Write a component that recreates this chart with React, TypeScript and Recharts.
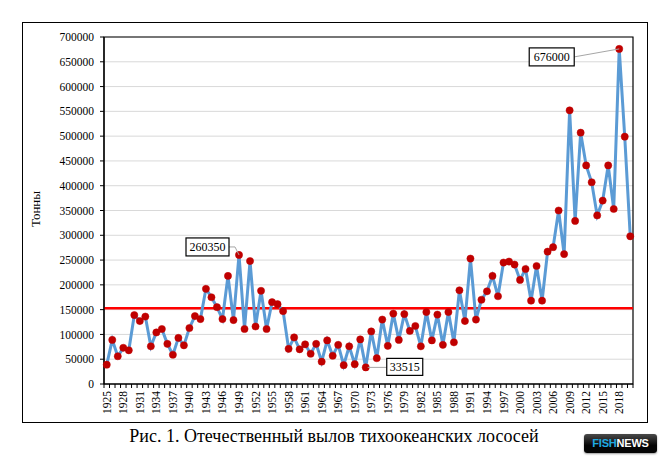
import {
  CartesianGrid,
  LabelList,
  Line,
  LineChart,
  ReferenceArea,
  ReferenceLine,
  XAxis,
  YAxis,
} from "recharts";

// Отечественный вылов тихоокеанских лососей, тонн
const YEARS = [
  1925, 1926, 1927, 1928, 1929, 1930, 1931, 1932, 1933, 1934, 1935, 1936,
  1937, 1938, 1939, 1940, 1941, 1942, 1943, 1944, 1945, 1946, 1947, 1948,
  1949, 1950, 1951, 1952, 1953, 1954, 1955, 1956, 1957, 1958, 1959, 1960,
  1961, 1962, 1963, 1964, 1965, 1966, 1967, 1968, 1969, 1970, 1971, 1972,
  1973, 1974, 1975, 1976, 1977, 1978, 1979, 1980, 1981, 1982, 1983, 1984,
  1985, 1986, 1987, 1988, 1989, 1990, 1991, 1992, 1993, 1994, 1995, 1996,
  1997, 1998, 1999, 2000, 2001, 2002, 2003, 2004, 2005, 2006, 2007, 2008,
  2009, 2010, 2011, 2012, 2013, 2014, 2015, 2016, 2017, 2018, 2019, 2020,
];

const CATCH = [
  39000, 89000, 56000, 73000, 68000, 139000, 127000, 136000, 76000, 104000, 111000, 81000,
  59000, 93000, 78000, 113000, 137000, 131000, 192000, 175000, 155000, 131000, 218000, 129000,
  260350, 111000, 248000, 116000, 188000, 111000, 165000, 161000, 147000, 71000, 94000, 70000,
  80000, 61000, 81000, 45000, 88000, 57000, 79000, 38000, 76000, 40000, 90000, 33515,
  106000, 52000, 130000, 77000, 142000, 89000, 141000, 107000, 117000, 76000, 145000, 88000,
  140000, 79000, 145000, 84000, 189000, 127000, 253000, 130000, 170000, 187000, 218000, 177000,
  245000, 247000, 241000, 210000, 232000, 168000, 238000, 168000, 267000, 276000, 350000, 262000,
  552000, 329000, 507000, 441000, 407000, 340000, 370000, 441000, 353000, 676000, 499000, 298000,
];

const MEAN_CATCH = 153000;

const Y_TICKS = [
  0, 50000, 100000, 150000, 200000, 250000, 300000, 350000, 400000, 450000,
  500000, 550000, 600000, 650000, 700000,
];

const YEAR_LABELS = [
  1925, 1928, 1931, 1934, 1937, 1940, 1943, 1946, 1949, 1952, 1955, 1958,
  1961, 1964, 1967, 1970, 1973, 1976, 1979, 1982, 1985, 1988, 1991, 1994,
  1997, 2000, 2003, 2006, 2009, 2012, 2015, 2018,
];

const CALLOUT_YEARS = [1949, 1972, 2018];

const data = YEARS.map((year, i) => ({ year, catch: CATCH[i] }));

// box offsets relative to the point, leader path relative to the point
const CALLOUT_LAYOUT: Record<
  number,
  { dx: number; dy: number; w: number; h: number; leader: [number, number][] }
> = {
  1949: { dx: -53, dy: -17, w: 43, h: 18, leader: [[-10, -8], [-4, -8], [0, 0]] },
  1972: { dx: 21, dy: -9, w: 36, h: 17, leader: [[2, 0], [21, 0]] },
  2018: { dx: -90, dy: -1, w: 45, h: 18, leader: [[-45, 8], [0, 0]] },
};

const SERIF = '"Liberation Serif", "Times New Roman", serif';
const BAND = 529 / YEARS.length;

function Callout(props: any) {
  const { x, y, index, value } = props;
  const year = YEARS[index];
  if (!CALLOUT_YEARS.includes(year)) return null;
  const l = CALLOUT_LAYOUT[year];
  const pts = l.leader.map(([px, py]) => `${x + px},${y + py}`).join(" ");
  return (
    <g>
      <polyline points={pts} fill="none" stroke="#a6a6a6" strokeWidth={1} />
      <rect
        x={x + l.dx}
        y={y + l.dy}
        width={l.w}
        height={l.h}
        fill="#fff"
        stroke="#000"
        strokeWidth={1.2}
      />
      <text
        x={x + l.dx + l.w / 2}
        y={y + l.dy + l.h / 2}
        textAnchor="middle"
        dominantBaseline="central"
        style={{ fontFamily: SERIF }}
        fontSize={12}
        fill="#000"
      >
        {value}
      </text>
    </g>
  );
}

function YearTick(props: any) {
  const { x, y, payload, index } = props;
  const axisY = y - 7;
  const year = payload.value as number;
  return (
    <g>
      <line x1={x - BAND / 2} x2={x - BAND / 2} y1={axisY} y2={axisY + 4} stroke="#000" />
      {index === YEARS.length - 1 ? (
        <line x1={x + BAND / 2} x2={x + BAND / 2} y1={axisY} y2={axisY + 4} stroke="#000" />
      ) : null}
      {YEAR_LABELS.includes(year) ? (
        <text
          x={x}
          y={y}
          transform={`rotate(-90, ${x}, ${y})`}
          textAnchor="end"
          dominantBaseline="central"
          style={{ fontFamily: SERIF }}
          fontSize={11.5}
          fill="#000"
        >
          {year}
        </text>
      ) : null}
    </g>
  );
}

export default function App() {
  return (
    <div
      style={{
        position: "absolute",
        left: 0,
        top: 0,
        width: 668,
        height: 463,
        background: "#fff",
        overflow: "hidden",
        fontFamily: SERIF,
      }}
    >
      <div
        style={{
          position: "absolute",
          left: 22,
          top: 22,
          width: 626,
          height: 401,
          border: "1.5px solid #000",
          boxSizing: "border-box",
        }}
      />
      <div style={{ position: "absolute", left: 0, top: 0 }}>
        <LineChart
          width={668}
          height={463}
          data={data}
          margin={{ top: 37, right: 35, bottom: 39, left: 0 }}
          style={{ fontFamily: SERIF }}
        >
          <CartesianGrid vertical={false} stroke="#d9d9d9" strokeWidth={1} />
          <XAxis
            dataKey="year"
            type="number"
            domain={[1924.5, 2020.5]}
            ticks={YEARS}
            interval={0}
            height={40}
            tickLine={false}
            tickSize={4}
            tickMargin={3}
            axisLine={{ stroke: "#000", strokeWidth: 1.2 }}
            tick={<YearTick />}
          />
          <YAxis
            type="number"
            domain={[0, 700000]}
            ticks={Y_TICKS}
            interval={0}
            width={104}
            tickSize={4}
            tickMargin={6}
            axisLine={{ stroke: "#000", strokeWidth: 1.2 }}
            tickLine={{ stroke: "#000" }}
            tick={{ fill: "#000", fontSize: 11.5, style: { fontFamily: SERIF } }}
          />
          <ReferenceArea
            x1={1924.5}
            x2={2020.5}
            y1={0}
            y2={700000}
            fill="none"
            stroke="#000"
            strokeWidth={1.2}
          />
          <ReferenceLine y={MEAN_CATCH} stroke="#ff0000" strokeWidth={2.5} />
          <Line
            type="linear"
            dataKey="catch"
            stroke="#5b9bd5"
            strokeWidth={3}
            dot={{ r: 3.6, fill: "#c00000", stroke: "#c00000", strokeWidth: 0.5 }}
            activeDot={false}
            isAnimationActive={false}
          >
            <LabelList dataKey="catch" content={<Callout />} />
          </Line>
        </LineChart>
      </div>
      <div
        style={{
          position: "absolute",
          left: 24,
          top: 197,
          width: 24,
          height: 24,
          transform: "rotate(-90deg)",
          display: "flex",
          alignItems: "center",
          justifyContent: "center",
          whiteSpace: "nowrap",
          fontFamily: SERIF,
          fontSize: 13,
          color: "#000",
        }}
      >
        Тонны
      </div>
      <div
        style={{
          position: "absolute",
          left: 0,
          top: 425,
          width: 668,
          textAlign: "center",
          fontFamily: SERIF,
          fontSize: 18,
          lineHeight: "22px",
          color: "#000",
        }}
      >
        Рис. 1. Отечественный вылов тихоокеанских лососей
      </div>
      <div
        style={{
          position: "absolute",
          left: 584,
          top: 434,
          width: 73,
          height: 19,
          borderRadius: 3,
          background: "linear-gradient(#4a4a4a, #050505 60%)",
          boxShadow: "0 1px 2px rgba(0,0,0,0.4)",
          fontFamily: '"Liberation Sans", Arial, sans-serif',
          fontWeight: 700,
          fontSize: 11,
          lineHeight: "19px",
          textAlign: "center",
          letterSpacing: -0.2,
        }}
      >
        <span style={{ color: "#1fa9e1" }}>FISH</span>
        <span style={{ color: "#fff" }}>NEWS</span>
      </div>
    </div>
  );
}
